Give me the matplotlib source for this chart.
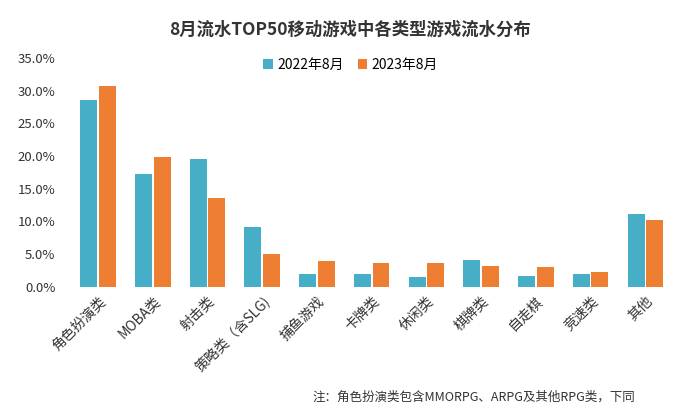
import numpy as np
import matplotlib.pyplot as plt
import matplotlib.transforms as mtransforms
from matplotlib.ticker import PercentFormatter

plt.rcParams['font.family'] = ['Noto Sans CJK SC', 'DejaVu Sans']

# categories and shares (%)
categories = ['角色扮演类', 'MOBA类', '射击类', '策略类（含SLG)', '捕鱼游戏', '卡牌类',
              '休闲类', '棋牌类', '自走棋', '竞速类', '其他']
share_2022 = [28.6, 17.3, 19.5, 9.1, 2.0, 1.9, 1.5, 4.1, 1.7, 2.0, 11.2]
share_2023 = [30.7, 19.9, 13.6, 5.0, 3.9, 3.7, 3.6, 3.2, 3.0, 2.3, 10.3]
series_names = ['2022年8月', '2023年8月']

blue = '#47AEC7'
orange = '#EE7E32'

fig = plt.figure(figsize=(7, 4.11), dpi=100)
ax = fig.add_axes([0.101, 0.302, 0.86, 0.557])

x = np.arange(len(categories))
w = 0.31
ax.bar(x - 0.17, share_2022, width=w, color=blue, label=series_names[0])
ax.bar(x + 0.17, share_2023, width=w, color=orange, label=series_names[1])

ax.set_xlim(-0.5, len(categories) - 0.5)
ax.set_ylim(0, 35)
ax.set_yticks(np.arange(0, 36, 5))
ax.yaxis.set_major_formatter(PercentFormatter(decimals=1))
ax.set_xticks(x)
ax.set_xticklabels(categories, rotation=45, ha='right', rotation_mode='anchor', fontsize=10, color='#333333')
# shift x labels a little to the right, like the original
offset = mtransforms.ScaledTranslation(10 / 72, -2 / 72, fig.dpi_scale_trans)
for lbl in ax.get_xticklabels():
    lbl.set_transform(lbl.get_transform() + offset)
ax.tick_params(axis='y', labelsize=9.5, colors='#333333', length=0, pad=11)
ax.tick_params(axis='x', length=0, pad=5)
for s in ax.spines.values():
    s.set_visible(False)

ax.legend(loc='upper center', bbox_to_anchor=(0.465, 1.055), ncol=2, frameon=False,
          fontsize=10, handlelength=0.7, handleheight=0.7, columnspacing=1.0, handletextpad=0.3)

fig.text(0.5, 0.915, '8月流水TOP50移动游戏中各类型游戏流水分布', ha='center', fontsize=12.5,
         fontweight='bold', color='#333333')
fig.text(0.907, 0.025, '注：角色扮演类包含MMORPG、ARPG及其他RPG类，下同', ha='right', fontsize=9,
         color='#333333')

fig.savefig('out.png', dpi=100)
